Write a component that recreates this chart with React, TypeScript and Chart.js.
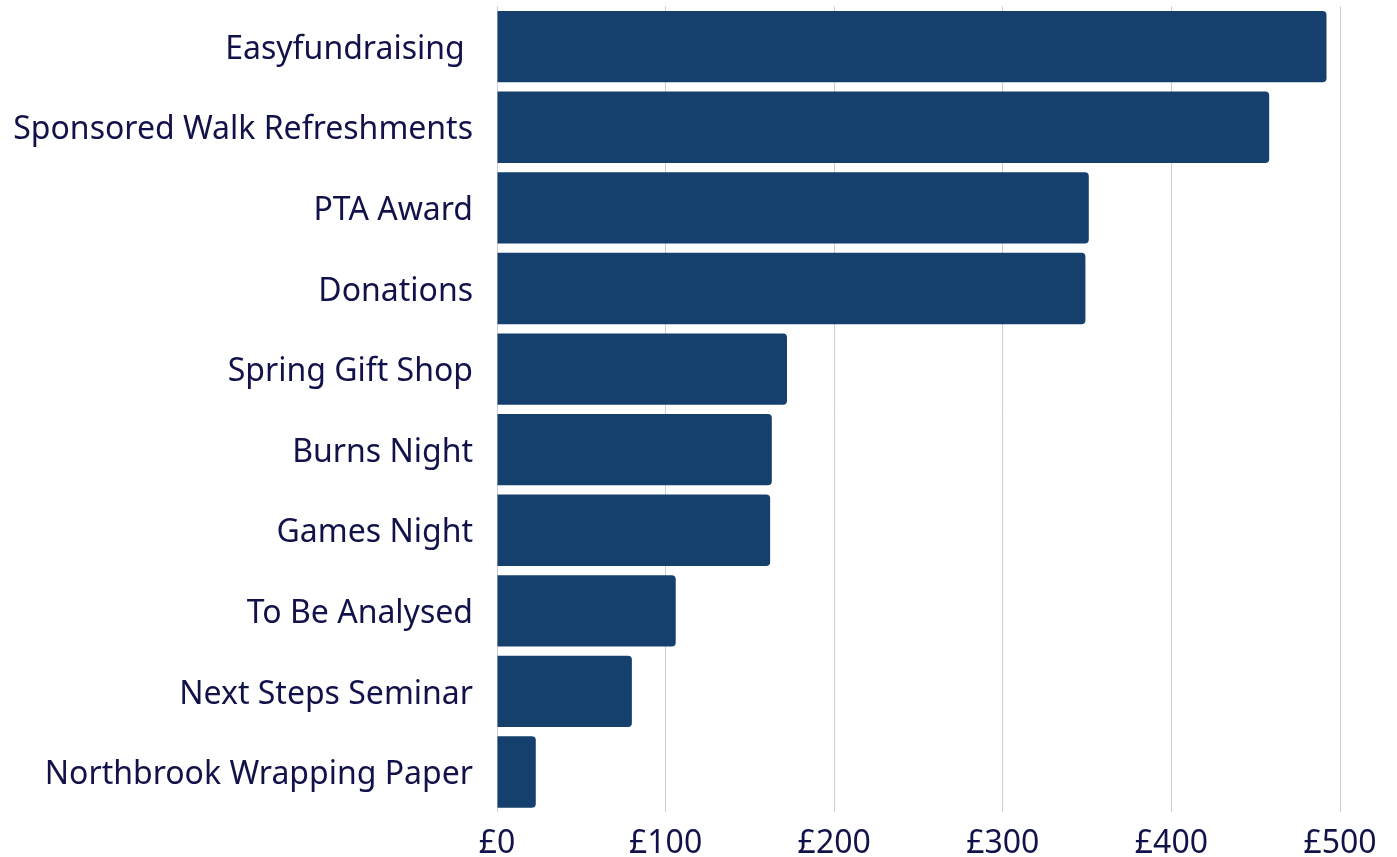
import React, { useEffect, useRef } from "react";
import { Chart, registerables } from "chart.js";

Chart.register(...registerables);

const categories = [
  "Easyfundraising ",
  "Sponsored Walk Refreshments",
  "PTA Award",
  "Donations",
  "Spring Gift Shop",
  "Burns Night",
  "Games Night",
  "To Be Analysed",
  "Next Steps Seminar",
  "Northbrook Wrapping Paper",
];
const amounts = [492, 458, 351, 349, 172, 163, 162, 106, 80, 23];
const xTicks = [0, 100, 200, 300, 400, 500];

const FONT = "'Noto Sans', sans-serif";
const TEXT = "#12124a";

export default function App() {
  const ref = useRef<HTMLCanvasElement>(null);
  useEffect(() => {
    document.body.style.margin = "0";
    const chart = new Chart(ref.current!, {
      type: "bar",
      data: {
        labels: categories,
        datasets: [
          {
            data: amounts,
            backgroundColor: "#15406e",
            borderRadius: 4,
            borderSkipped: "start",
            barPercentage: 0.885,
            categoryPercentage: 1,
          },
        ],
      },
      options: {
        indexAxis: "y",
        animation: false,
        responsive: false,
        maintainAspectRatio: false,
        layout: { padding: { top: 6.4, right: 57, left: 0, bottom: 0 } },
        plugins: { legend: { display: false }, tooltip: { enabled: false } },
        scales: {
          x: {
            min: 0,
            max: 500,
            afterBuildTicks: (axis: any) => {
              axis.ticks = xTicks.map((v) => ({ value: v }));
            },
            afterFit: (axis: any) => {
              axis.height = 44.7;
              axis.paddingLeft = 0;
              axis.paddingRight = 0;
            },
            grid: { color: "#cdcdda", lineWidth: 1, drawTicks: false },
            border: { display: false },
            ticks: {
              padding: 12,
              color: TEXT,
              font: { family: FONT, size: 32 },
              callback: (v: any) => "£" + v,
            },
          },
          y: {
            afterFit: (axis: any) => {
              axis.width = 497;
              axis.paddingTop = 0;
              axis.paddingBottom = 0;
            },
            grid: { display: false, drawTicks: false },
            border: { display: false },
            ticks: {
              padding: 24,
              labelOffset: 3,
              color: TEXT,
              font: { family: FONT, size: 32 },
            },
          },
        },
      },
    });
    return () => chart.destroy();
  }, []);
  return <canvas ref={ref} width={1397} height={857} style={{ display: "block" }} />;
}
